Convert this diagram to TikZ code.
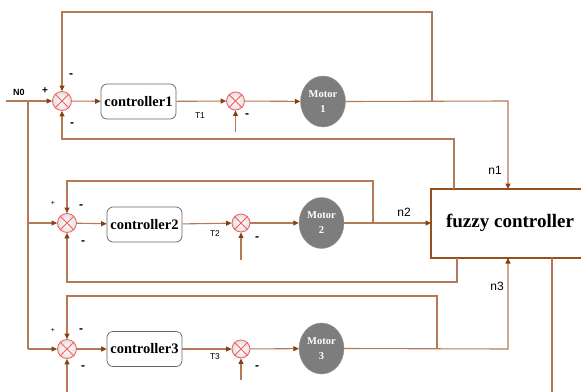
\documentclass[tikz,border=0pt]{standalone}
\usepackage{fontspec}
\setmainfont{Liberation Serif}
\setsansfont{Liberation Sans}
\usetikzlibrary{arrows.meta}
\definecolor{wire}{RGB}{180,122,86}
\definecolor{tipc}{RGB}{130,66,20}
\definecolor{boxb}{RGB}{150,80,30}
\definecolor{sumred}{RGB}{250,90,90}
\definecolor{motorg}{RGB}{125,125,125}
\tikzset{
  wireline/.style={draw=wire, line width=1.1pt},
  arr/.style={wireline, -{Triangle[length=5.5pt,width=5pt,color=tipc]}},
  sumnode/.style={circle, draw=sumred, line width=0.8pt, minimum size=19pt, inner sep=0pt, inner color=white, outer color=black!12},
  ctrl/.style={draw=black!60, rounded corners=6pt, line width=0.7pt, fill=white, minimum width=75pt, minimum height=35pt, inner sep=0pt, font=\bfseries\fontsize{14.5}{14.5}\selectfont},
  motor/.style={ellipse, fill=motorg, draw=motorg!80, minimum width=45pt, minimum height=51pt, inner sep=0pt, text=white, align=center, font=\bfseries\fontsize{10.5}{15}\selectfont},
  fuzzy/.style={draw=boxb, line width=2.2pt, fill=white, inner sep=0pt},
  lab/.style={font=\sffamily\fontsize{8.5}{9}\selectfont},
  nlab/.style={font=\sffamily\fontsize{12}{12}\selectfont},
  sgn/.style={font=\sffamily\bfseries\fontsize{12}{12}\selectfont},
}
\usetikzlibrary{shapes.geometric}
\begin{document}
\begin{tikzpicture}[x=1pt,y=-1pt]
\clip (0,0) rectangle (581,391);
\fill[white] (0,0) rectangle (581,391);

% fuzzy controller
\draw[fuzzy] (431,189) rectangle (600,258);
\node[font=\bfseries\fontsize{19}{19}\selectfont] (fc) at (510,223) {fuzzy controller};
\coordinate (fcw) at (431,223);

% row 1
\node[sumnode] (s1) at (62,101) {};
\node[ctrl] (c1) at (138.5,101.5) {controller1};
\node[sumnode, minimum size=18pt] (d1) at (235.5,101) {};
\node[motor] (m1) at (323,101.5) {Motor\\1};
% row 2
\node[sumnode] (s2) at (67,223) {};
\node[ctrl] (c2) at (144.5,224.5) {controller2};
\node[sumnode, minimum size=18pt] (d2) at (241,223) {};
\node[motor] (m2) at (321.5,223) {Motor\\2};
% row 3
\node[sumnode] (s3) at (67,349) {};
\node[ctrl] (c3) at (144.5,349) {controller3};
\node[sumnode, minimum size=18pt] (d3) at (241,349) {};
\node[motor] (m3) at (321.5,348.5) {Motor\\3};

\foreach \s in {s1,d1,s2,d2,s3,d3}{
  \draw[sumred, line width=0.8pt] (\s.45) -- (\s.225) (\s.135) -- (\s.315);
}

% coordinates
\coordinate (in0) at (6,101);
\coordinate (j0) at (28,101);
\coordinate (j2) at (28,223);
\coordinate (j3) at (28,349);
\coordinate (u1) at (235.5,132);
\coordinate (u2) at (241,260);
\coordinate (u3) at (241,380);
\coordinate (fcn1) at (508,189);
\coordinate (fcn3) at (508,258);
\coordinate (fco1) at (454,189);
\coordinate (fco2) at (457,258);
\coordinate (fco3) at (552,258);

% row 1 wires
\draw[arr] (in0) -- (s1.west);
\draw[arr] (s1) -- (c1);
\draw[arr] (c1) -- (d1);
\draw[arr] (d1) -- (m1);
\draw[arr] (u1) -- (d1.south);
\draw[arr] (m1.east) -- (508,101) -- (fcn1);
\draw[arr] (432,101) -- (432,12) -- (62,12) -- (s1.north);
\draw[arr] (fco1) -- (454,139) -- (62,139) -- (s1.south);

% N0 distribution
\draw[wireline] (j0) -- (j3);
\draw[arr] (j2) -- (s2.west);
\draw[arr] (j3) -- (s3.west);

% row 2 wires
\draw[arr] (s2) -- (c2);
\draw[arr] (c2) -- (d2);
\draw[arr] (d2) -- (m2);
\draw[arr] (u2) -- (d2.south);
\draw[arr] (m2.east) -- (fcw);
\draw[arr] (373,223) -- (373,181) -- (67,181) -- (s2.north);
\draw[arr] (fco2) -- (457,282) -- (67,282) -- (s2.south);

% row 3 wires
\draw[arr] (s3) -- (c3);
\draw[arr] (c3) -- (d3);
\draw[arr] (d3) -- (m3);
\draw[arr] (u3) -- (d3.south);
\draw[arr] (m3.east) -- (508,349) -- (fcn3);
\draw[arr] (437,349) -- (437,296) -- (67,296) -- (s3.north);
\draw[arr] (fco3) -- (552,400) -- (67,400) -- (s3.south);

% labels
\node[lab, font=\sffamily\bfseries\fontsize{9}{9}\selectfont] (lN0) at (19,92) {N0};
\node[sgn, font=\sffamily\bfseries\fontsize{10}{10}\selectfont] (p1) at (45,91) {+};
\node[sgn] (mt1) at (71,76) {-};
\node[sgn] (mb1) at (72,125) {-};
\node[lab] (lT1) at (200,116) {T1};
\node[sgn] (md1) at (247,116) {-};

\node[lab, font=\sffamily\fontsize{7}{7}\selectfont] (p2) at (53,203) {+};
\node[sgn] (mt2) at (81,207) {-};
\node[sgn] (mb2) at (83,243) {-};
\node[lab] (lT2) at (215,234) {T2};
\node[sgn] (md2) at (257,239) {-};

\node[lab, font=\sffamily\fontsize{7}{7}\selectfont] (p3) at (53,330) {+};
\node[sgn] (mt3) at (81,331) {-};
\node[sgn] (mb3) at (83,368) {-};
\node[lab] (lT3) at (215,357) {T3};
\node[sgn] (md3) at (257,368) {-};

\node[nlab] (ln1) at (495,170) {n1};
\node[nlab] (ln2) at (404,212) {n2};
\node[nlab] (ln3) at (497,286) {n3};
\end{tikzpicture}
\end{document}
